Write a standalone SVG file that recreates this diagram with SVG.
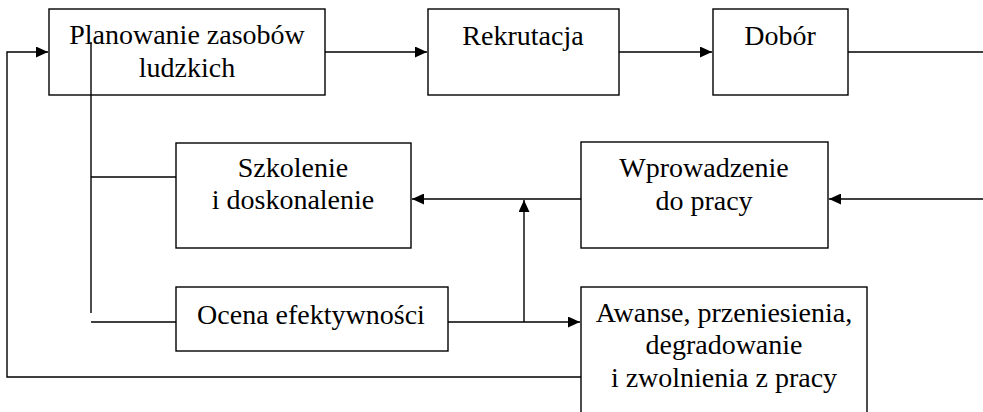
<svg xmlns="http://www.w3.org/2000/svg" width="983" height="412" viewBox="0 0 983 412">
<style>
.box{fill:#fff;stroke:#000;stroke-width:1.4}
.ln{fill:none;stroke:#000;stroke-width:1.4}
text{font-family:"Liberation Serif","Times New Roman",serif;font-size:28px;fill:#000;text-anchor:middle}
</style>
<defs>
<marker id="ah" markerUnits="userSpaceOnUse" markerWidth="13" markerHeight="11" refX="12" refY="5.5" orient="auto">
<path d="M0,0 L12,5.5 L0,11 Z" fill="#000"/>
</marker>
</defs>
<rect width="983" height="412" fill="#fff"/>
<g id="connectors">
<path class="ln" d="M581,377 H7 V52 H48" marker-end="url(#ah)"/>
<path class="ln" d="M91,42 V313"/>
<path class="ln" d="M91,177 H176"/>
<path class="ln" d="M91,322 H176"/>
<path class="ln" d="M325,52 H427" marker-end="url(#ah)"/>
<path class="ln" d="M619,52 H712" marker-end="url(#ah)"/>
<path class="ln" d="M848,52 H983"/>
<path class="ln" d="M983,199 H829" marker-end="url(#ah)"/>
<path class="ln" d="M581,199 H412" marker-end="url(#ah)"/>
<path class="ln" d="M448,322 H580" marker-end="url(#ah)"/>
<path class="ln" d="M524,322 V200" marker-end="url(#ah)"/>
</g>
<g id="planowanie">
<rect class="box" x="49" y="9" width="276" height="86"/>
<text x="187" y="44">Planowanie zasobów</text>
<text x="187" y="77">ludzkich</text>
</g>
<path class="ln" d="M91,42 V95"/>
<g id="rekrutacja">
<rect class="box" x="428" y="9" width="191" height="86"/>
<text x="523" y="45">Rekrutacja</text>
</g>
<g id="dobor">
<rect class="box" x="713" y="9" width="135" height="86"/>
<text x="780" y="45">Dobór</text>
</g>
<g id="szkolenie">
<rect class="box" x="176" y="143" width="235" height="105"/>
<text x="293" y="177">Szkolenie</text>
<text x="293" y="209">i doskonalenie</text>
</g>
<g id="wprowadzenie">
<rect class="box" x="581" y="142" width="247" height="106"/>
<text x="704" y="177">Wprowadzenie</text>
<text x="704" y="210">do pracy</text>
</g>
<g id="ocena">
<rect class="box" x="176" y="287" width="272" height="64"/>
<text x="311" y="324">Ocena efektywności</text>
</g>
<g id="awanse">
<rect class="box" x="581" y="287" width="286" height="130"/>
<text x="724" y="322">Awanse, przeniesienia,</text>
<text x="724" y="354">degradowanie</text>
<text x="724" y="387">i zwolnienia z pracy</text>
</g>
</svg>
